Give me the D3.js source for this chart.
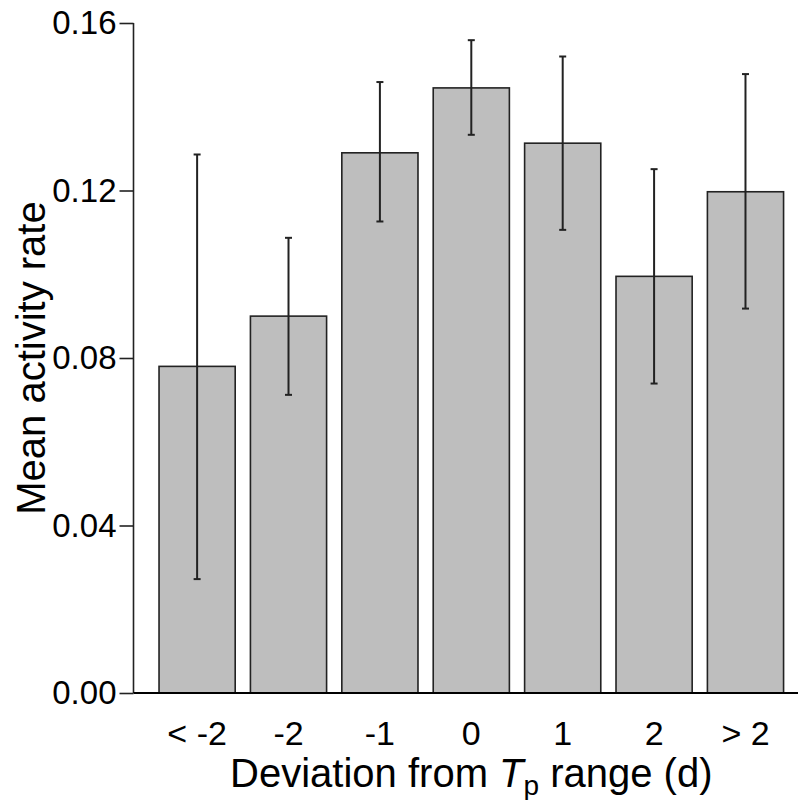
<!DOCTYPE html>
<html>
<head>
<meta charset="utf-8">
<script src="https://cdn.jsdelivr.net/npm/d3@7.9.0/dist/d3.min.js"></script>
<style>
  body { margin: 0; background: #fff; }
  svg text { font-family: 'Liberation Sans', Arial, sans-serif; fill: #000; }
</style>
</head>
<body>
<div id="chart"></div>
<script>
// values
const categories = ['< -2', '-2', '-1', '0', '1', '2', '> 2'];
const means = [0.078, 0.090, 0.129, 0.1445, 0.1313, 0.0995, 0.1197];
const upper = [0.1286, 0.1087, 0.1459, 0.1559, 0.1520, 0.1251, 0.1478];
const lower = [0.0272, 0.0712, 0.1126, 0.1333, 0.1106, 0.0739, 0.0918];
const yTicks = [0, 0.04, 0.08, 0.12, 0.16];

const rows = categories.map((c, i) => ({ cat: c, mean: means[i], hi: upper[i], lo: lower[i] }));

const width = 798;
const height = 800;

const svg = d3.select('#chart')
  .append('svg')
  .attr('width', width)
  .attr('height', height);

const x = d3.scaleBand()
  .domain(categories)
  .range([143.8, 798.8])
  .paddingInner(1 / 6)
  .paddingOuter(1 / 6);

const y = d3.scaleLinear().domain([0, 0.16]).range([693, 23]);
const axisX = 133.5;

// bars
svg.append('g')
  .selectAll('rect')
  .data(rows)
  .join('rect')
  .attr('x', d => x(d.cat))
  .attr('y', d => y(d.mean))
  .attr('width', x.bandwidth())
  .attr('height', d => y(0) - y(d.mean))
  .attr('fill', '#bebebe')
  .attr('stroke', '#222')
  .attr('stroke-width', 1.6);

// error bars
const err = svg.append('g').attr('stroke', '#222').attr('stroke-width', 2);
const cx = d => x(d.cat) + x.bandwidth() / 2;
err.selectAll('line.v')
  .data(rows)
  .join('line')
  .attr('class', 'v')
  .attr('x1', cx).attr('x2', cx)
  .attr('y1', d => y(d.lo)).attr('y2', d => y(d.hi));
err.selectAll('line.hi')
  .data(rows)
  .join('line')
  .attr('class', 'hi')
  .attr('x1', d => cx(d) - 3.5).attr('x2', d => cx(d) + 3.5)
  .attr('y1', d => y(d.hi)).attr('y2', d => y(d.hi));
err.selectAll('line.lo')
  .data(rows)
  .join('line')
  .attr('class', 'lo')
  .attr('x1', d => cx(d) - 3.5).attr('x2', d => cx(d) + 3.5)
  .attr('y1', d => y(d.lo)).attr('y2', d => y(d.lo));

// y axis
const yAxis = svg.append('g')
  .attr('transform', `translate(${axisX},0)`)
  .call(d3.axisLeft(y).tickValues(yTicks).tickFormat(d3.format('.2f')).tickSize(14).tickPadding(3));
yAxis.select('.domain').attr('d', `M0,${y(0.16)}V${y(0)}`).attr('stroke', '#222').attr('stroke-width', 1.6);
yAxis.selectAll('.tick line').attr('stroke', '#222').attr('stroke-width', 1.6);
yAxis.selectAll('.tick text')
  .attr('font-size', 33)
  .attr('font-family', "'Liberation Sans', Arial, sans-serif")
  .attr('fill', '#000');

// x axis (line, no ticks)
const xAxis = svg.append('g')
  .attr('transform', `translate(0,${y(0)})`)
  .call(d3.axisBottom(x).tickSize(0).tickPadding(28));
xAxis.select('.domain').attr('d', `M${axisX},0H${width}`).attr('stroke', '#000').attr('stroke-width', 2.2);
xAxis.selectAll('.tick text')
  .attr('font-size', 34)
  .attr('font-family', "'Liberation Sans', Arial, sans-serif")
  .attr('fill', '#000');

// axis titles
const xCenter = (x(categories[0]) + x(categories[categories.length - 1]) + x.bandwidth()) / 2;
const xt = svg.append('text')
  .attr('x', xCenter)
  .attr('y', 787)
  .attr('text-anchor', 'middle')
  .attr('font-size', 40);
xt.append('tspan').text('Deviation from ');
xt.append('tspan').attr('font-style', 'italic').text('T');
xt.append('tspan').attr('font-size', 28).attr('dy', 8).text('p');
xt.append('tspan').attr('dy', -8).text(' range (d)');

svg.append('text')
  .attr('transform', `translate(45,${(y(0) + y(0.16)) / 2}) rotate(-90)`)
  .attr('text-anchor', 'middle')
  .attr('font-size', 40)
  .text('Mean activity rate');
</script>
</body>
</html>
